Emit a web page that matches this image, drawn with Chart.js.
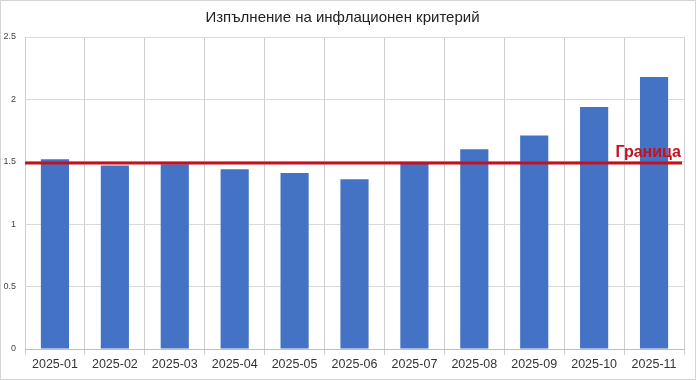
<!DOCTYPE html>
<html><head><meta charset="utf-8">
<script src="https://cdn.jsdelivr.net/npm/chart.js@4"></script>
<style>
html,body{margin:0;padding:0;background:#fff;}
#wrap{position:relative;width:696px;height:380px;box-sizing:border-box;border:1px solid #d4d4d4;}
canvas{display:block;}
</style></head>
<body><div id="wrap"><canvas id="c" width="694" height="378"></canvas></div>
<script>
const categories = ['2025-01','2025-02','2025-03','2025-04','2025-05','2025-06','2025-07','2025-08','2025-09','2025-10','2025-11'];
const values = [1.52, 1.47, 1.48, 1.44, 1.41, 1.36, 1.49, 1.60, 1.71, 1.94, 2.18];
const limitValue = 1.49;
const limitLabel = 'Граница';
const titleText = 'Изпълнение на инфлационен критерий';
const yTicks = [0, 0.5, 1, 1.5, 2, 2.5];

const limitPlugin = {
  id: 'limitLine',
  afterDatasetsDraw(chart) {
    const {ctx, chartArea, scales} = chart;
    const y = scales.y.getPixelForValue(limitValue);
    ctx.save();
    ctx.strokeStyle = '#c4101f';
    ctx.lineWidth = 3;
    ctx.beginPath();
    ctx.moveTo(chartArea.left, y);
    ctx.lineTo(chartArea.right - 2, y);
    ctx.stroke();
    ctx.fillStyle = '#c4101f';
    ctx.font = 'bold 16px "Liberation Sans", Arial, sans-serif';
    ctx.textAlign = 'right';
    ctx.textBaseline = 'alphabetic';
    ctx.fillText(limitLabel, chartArea.right - 3, y - 6);
    ctx.restore();
  }
};

new Chart(document.getElementById('c'), {
  type: 'bar',
  data: {
    labels: categories,
    datasets: [{
      data: values,
      backgroundColor: '#4472c4',
      barPercentage: 0.47,
      categoryPercentage: 1.0
    }]
  },
  options: {
    responsive: false,
    animation: false,
    layout: {padding: {left: 0, right: 11, top: 0, bottom: 0}},
    plugins: {
      legend: {display: false},
      tooltip: {enabled: false},
      title: {
        display: true,
        text: titleText,
        color: '#222',
        font: {family: '"Liberation Sans", Arial, sans-serif', size: 15, weight: 'normal'},
        padding: {top: 8, bottom: 10}
      }
    },
    scales: {
      x: {
        grid: {offset: true, color: '#cfcfcf', lineWidth: 1, tickLength: 6, drawTicks: true},
        border: {color: '#bfbfbf'},
        ticks: {color: '#333', font: {family: '"Liberation Sans", Arial, sans-serif', size: 12.5}, padding: 2, maxRotation: 0, autoSkip: false},
        afterFit(scale) { scale.height = 30; }
      },
      y: {
        min: 0, max: 2.5,
        afterBuildTicks(scale) { scale.ticks = yTicks.map(v => ({value: v})); },
        grid: {color: '#d9d9d9', drawTicks: false},
        border: {display: false},
        ticks: {color: '#444', font: {family: '"Liberation Sans", Arial, sans-serif', size: 9}, padding: 9,
          callback: v => String(v)},
        afterFit(scale) { scale.width = 24; }
      }
    }
  },
  plugins: [limitPlugin]
});
</script></body></html>
